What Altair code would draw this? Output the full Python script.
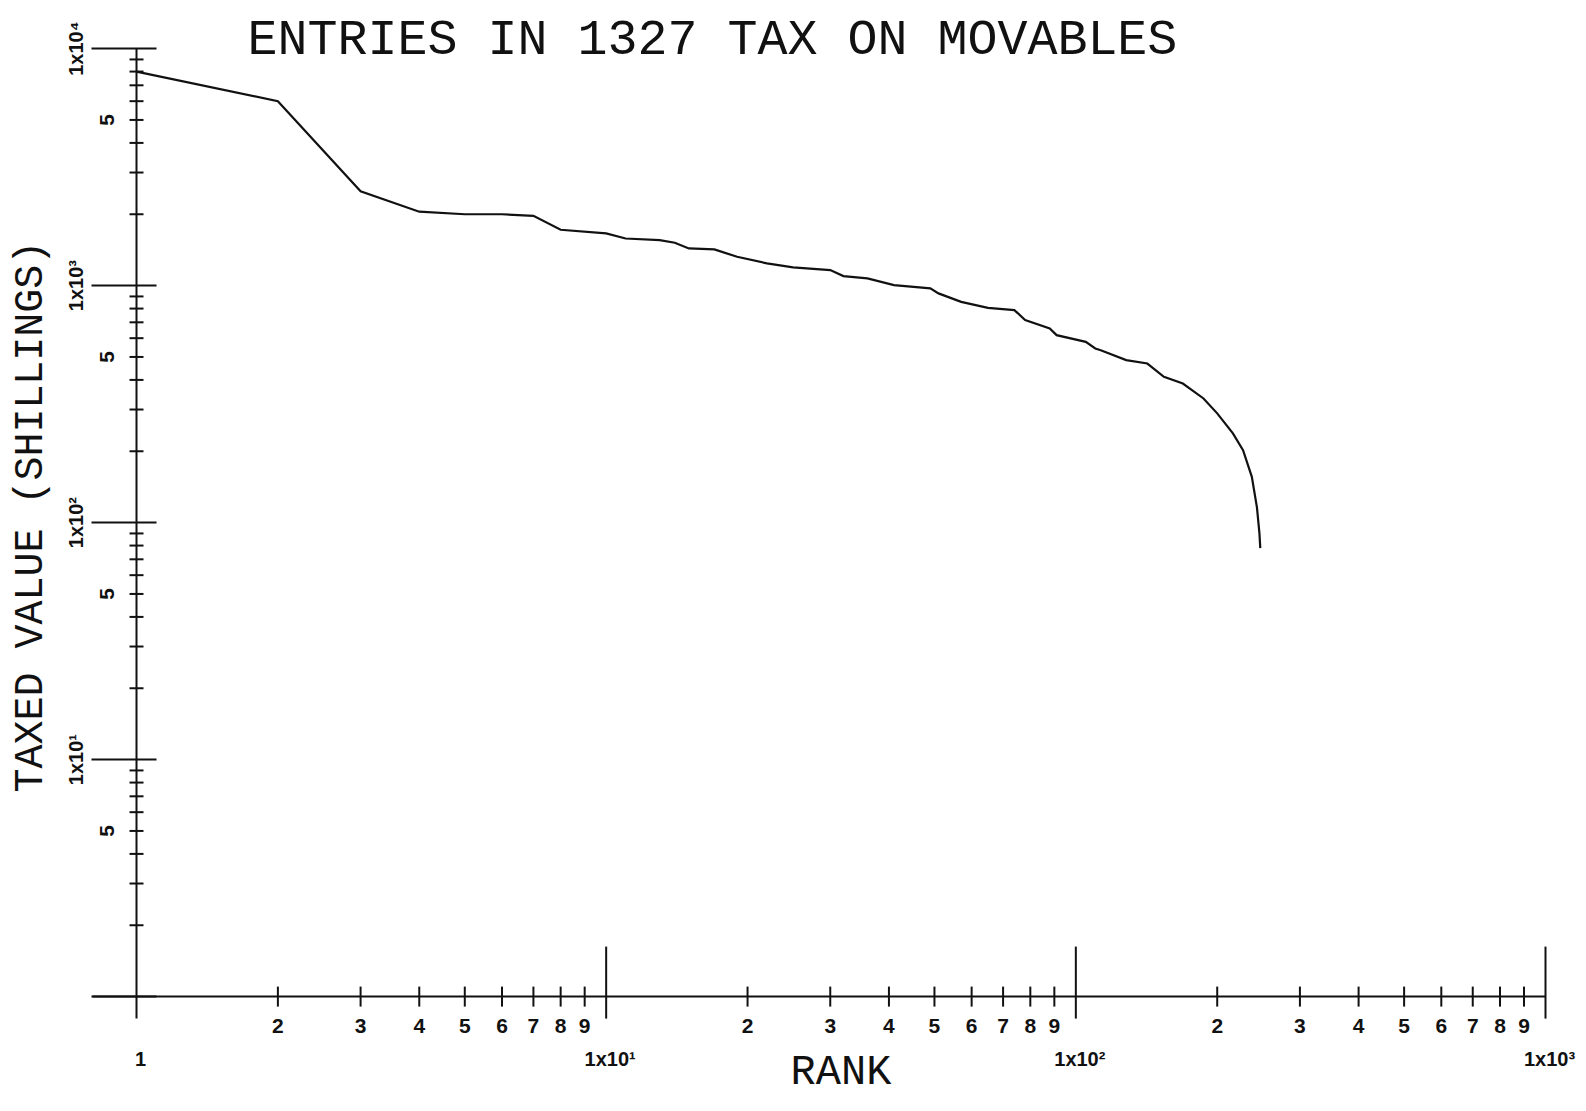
import altair as alt
import pandas as pd

TITLE = ["ENTRIES IN 1327 TAX ON MOVABLES"]
X_TITLE = ["RANK"]
Y_TITLE = ["TAXED VALUE (SHILLINGS)"]

# curve (rank, taxed value in shillings)
rank = [1, 2, 3, 4, 5, 6, 7, 8, 10, 11, 13, 14, 15, 17, 19, 22, 25, 30, 32, 36,
        41, 49, 51, 57, 65, 74, 78, 88, 91, 105, 110, 113, 128, 142, 154, 169,
        187, 200, 216, 227, 237, 243, 246, 247]
value = [8000, 6000, 2500, 2050, 2000, 2000, 1970, 1720, 1660, 1580, 1556, 1516,
         1435, 1421, 1323, 1241, 1194, 1163, 1097, 1072, 1005, 973, 927, 854, 806,
         788, 715, 660, 618, 579, 543, 534, 485, 469, 412, 386, 334, 289, 238, 202,
         156, 116, 90, 78]

# axis ticks and labels
x_minor = [2, 3, 4, 5, 6, 7, 8, 9, 20, 30, 40, 50, 60, 70, 80, 90,
           200, 300, 400, 500, 600, 700, 800, 900]
x_minor_labels = ["2", "3", "4", "5", "6", "7", "8", "9"] * 3
x_major = [10, 100, 1000]
x_decade_pos = [1, 10, 100, 1000]
x_decade_labels = ["1", "1x10¹", "1x10²", "1x10³"]

y_minor = [2, 3, 4, 5, 6, 7, 8, 9, 20, 30, 40, 50, 60, 70, 80, 90,
           200, 300, 400, 500, 600, 700, 800, 900,
           2000, 3000, 4000, 5000, 6000, 7000, 8000, 9000]
y_major = [1, 10, 100, 1000, 10000]
y_decade_pos = [10, 100, 1000, 10000]
y_decade_labels = ["1x10¹", "1x10²", "1x10³", "1x10⁴"]
y_five_pos = [5, 50, 500, 5000]
y_five_labels = ["5", "5", "5", "5"]

W, H = 1409, 948
INK = "#111111"
MONO = "Liberation Mono"
NUMF = "Liberation Sans"

xs = alt.Scale(type="log", domain=[1, 1000], nice=False)
ys = alt.Scale(type="log", domain=[1, 10000], nice=False)

curve_df = pd.DataFrame({"rank": rank, "value": value})
xmin_df = pd.DataFrame({"v": x_minor, "t": x_minor_labels})
xmaj_df = pd.DataFrame({"v": x_major})
xdec_df = pd.DataFrame({"v": x_decade_pos, "t": x_decade_labels})
ymin_df = pd.DataFrame({"v": y_minor})
ymaj_df = pd.DataFrame({"v": y_major})
ydec_df = pd.DataFrame({"v": y_decade_pos, "t": y_decade_labels})
yfive_df = pd.DataFrame({"v": y_five_pos, "t": y_five_labels})
one = pd.DataFrame({"a": [0]})

curve = alt.Chart(curve_df).mark_line(color=INK, strokeWidth=2.2).encode(
    x=alt.X("rank:Q", scale=xs, axis=None),
    y=alt.Y("value:Q", scale=ys, axis=None),
    order="rank:Q",
)

y_line = alt.Chart(one).mark_rule(color=INK, strokeWidth=2).encode(
    x=alt.value(0),
    y=alt.Y(datum=10000, scale=ys, axis=None),
    y2=alt.value(H + 22),
)
x_line = alt.Chart(one).mark_rule(color=INK, strokeWidth=2).encode(
    y=alt.value(H),
    x=alt.X(datum=1000, scale=xs, axis=None),
    x2=alt.value(-44),
)

y_minor_ticks = alt.Chart(ymin_df).mark_rule(color=INK, strokeWidth=2).encode(
    y=alt.Y("v:Q", scale=ys, axis=None), x=alt.value(-7), x2=alt.value(7)
)
y_major_ticks = alt.Chart(ymaj_df).mark_rule(color=INK, strokeWidth=2).encode(
    y=alt.Y("v:Q", scale=ys, axis=None), x=alt.value(-45), x2=alt.value(20)
)
x_minor_ticks = alt.Chart(xmin_df).mark_rule(color=INK, strokeWidth=2).encode(
    x=alt.X("v:Q", scale=xs, axis=None), y=alt.value(H - 10), y2=alt.value(H + 10)
)
x_major_ticks = alt.Chart(xmaj_df).mark_rule(color=INK, strokeWidth=2).encode(
    x=alt.X("v:Q", scale=xs, axis=None), y=alt.value(H - 50), y2=alt.value(H + 22)
)

x_minor_text = alt.Chart(xmin_df).mark_text(
    font=NUMF, fontSize=21, fontWeight="bold", color=INK, baseline="middle", align="center"
).encode(x=alt.X("v:Q", scale=xs, axis=None), y=alt.value(H + 30), text="t:N")

x_dec_text = alt.Chart(xdec_df).mark_text(
    font=NUMF, fontSize=20, fontWeight="bold", color=INK, baseline="middle", align="center", dx=4
).encode(x=alt.X("v:Q", scale=xs, axis=None), y=alt.value(H + 63), text="t:N")

y_dec_text = alt.Chart(ydec_df).mark_text(
    font=NUMF, fontSize=20, fontWeight="bold", color=INK, baseline="middle", align="center", angle=270
).encode(y=alt.Y("v:Q", scale=ys, axis=None), x=alt.value(-60), text="t:N")

y_five_text = alt.Chart(yfive_df).mark_text(
    font=NUMF, fontSize=21, fontWeight="bold", color=INK, baseline="middle", align="center", angle=270
).encode(y=alt.Y("v:Q", scale=ys, axis=None), x=alt.value(-29), text="t:N")

title = alt.Chart(pd.DataFrame({"t": TITLE})).mark_text(
    font=MONO, fontSize=50, color=INK, align="left", baseline="alphabetic"
).encode(x=alt.value(111), y=alt.value(5), text="t:N")

x_title = alt.Chart(pd.DataFrame({"t": X_TITLE})).mark_text(
    font=MONO, fontSize=42, color=INK, align="center", baseline="alphabetic"
).encode(x=alt.value(W / 2), y=alt.value(H + 87), text="t:N")

y_title = alt.Chart(pd.DataFrame({"t": Y_TITLE})).mark_text(
    font=MONO, fontSize=40, color=INK, align="center", baseline="middle", angle=270
).encode(x=alt.value(-107), y=alt.value(H / 2 - 6), text="t:N")

chart = alt.layer(
    y_line, x_line, y_minor_ticks, y_major_ticks, x_minor_ticks, x_major_ticks,
    x_minor_text, x_dec_text, y_dec_text, y_five_text,
    title, x_title, y_title, curve,
).properties(
    width=W,
    height=H,
    autosize=alt.AutoSizeParams(type="none"),
    padding={"left": 128.5, "top": 40.6, "right": 32, "bottom": 100},
    background="white",
).configure_view(stroke=None)

chart.save("out.html", embed_options={"renderer": "svg", "actions": False})
